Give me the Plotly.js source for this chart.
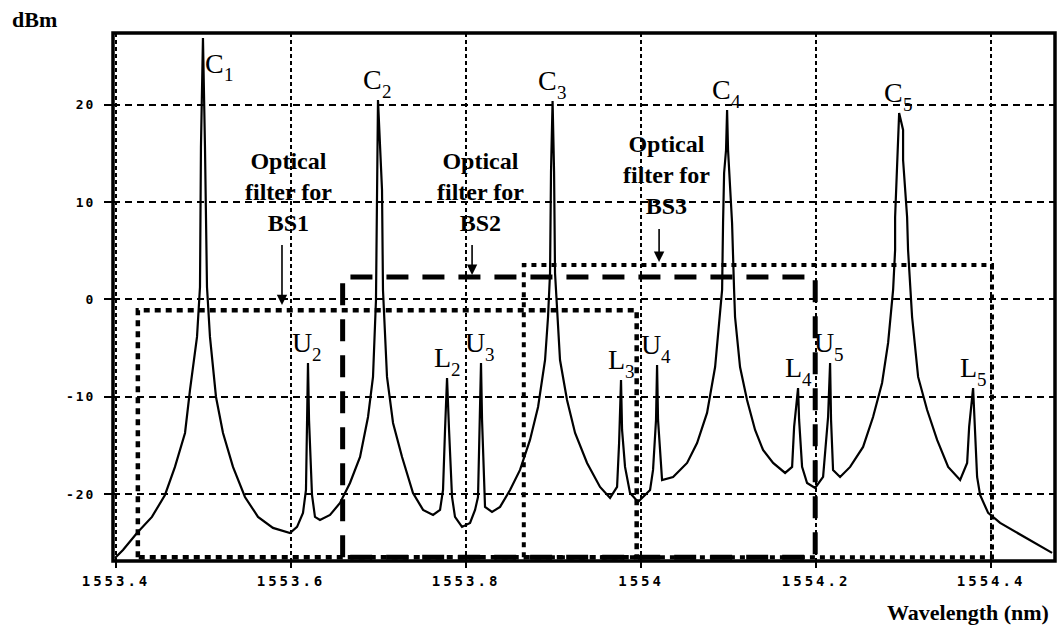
<!DOCTYPE html>
<html>
<head>
<meta charset="utf-8">
<script src="https://cdn.plot.ly/plotly-3.0.1.min.js"></script>
<style>
  html, body { margin: 0; padding: 0; background: #fff; }
  #chart { width: 1057px; height: 642px; }
  .xtick text { letter-spacing: 3px; }
  .ytick text { letter-spacing: 2px; }
</style>
</head>
<body>
<div id="chart"></div>
<script>
// Measured optical spectrum: wavelength (nm) and power (dBm)
const wavelength = [
  1553.3989, 1553.4080, 1553.4240, 1553.4411, 1553.4560, 1553.4674, 1553.4789, 1553.4846, 1553.4926, 1553.4960,
  1553.4971, 1553.4994, 1553.5017, 1553.5040, 1553.5074, 1553.5143, 1553.5223, 1553.5337, 1553.5474, 1553.5623,
  1553.5794, 1553.5989, 1553.6069, 1553.6137, 1553.6171, 1553.6183, 1553.6194, 1553.6206, 1553.6240, 1553.6274,
  1553.6331, 1553.6446, 1553.6560, 1553.6674, 1553.6789, 1553.6880, 1553.6937, 1553.6971, 1553.6983, 1553.6994,
  1553.7040, 1553.7051, 1553.7097, 1553.7166, 1553.7269, 1553.7394, 1553.7509, 1553.7623, 1553.7703, 1553.7737,
  1553.7760, 1553.7783, 1553.7806, 1553.7840, 1553.7874, 1553.7954, 1553.8046, 1553.8103, 1553.8137, 1553.8160,
  1553.8171, 1553.8183, 1553.8217, 1553.8297, 1553.8389, 1553.8503, 1553.8617, 1553.8731, 1553.8823, 1553.8903,
  1553.8937, 1553.8960, 1553.8971, 1553.8989, 1553.9006, 1553.9017, 1553.9074, 1553.9154, 1553.9246, 1553.9383,
  1553.9531, 1553.9646, 1553.9726, 1553.9749, 1553.9771, 1553.9783, 1553.9817, 1553.9874, 1553.9966, 1554.0103,
  1554.0137, 1554.0171, 1554.0183, 1554.0194, 1554.0240, 1554.0366, 1554.0526, 1554.0640, 1554.0754, 1554.0846,
  1554.0903, 1554.0926, 1554.0937, 1554.0949, 1554.0971, 1554.0983, 1554.0994, 1554.1006, 1554.1040, 1554.1063,
  1554.1074, 1554.1131, 1554.1211, 1554.1303, 1554.1394, 1554.1509, 1554.1646, 1554.1726, 1554.1749, 1554.1794,
  1554.1806, 1554.1840, 1554.1897, 1554.1989, 1554.2080, 1554.2137, 1554.2160, 1554.2171, 1554.2194, 1554.2274,
  1554.2389, 1554.2537, 1554.2651, 1554.2754, 1554.2823, 1554.2880, 1554.2903, 1554.2903, 1554.2926, 1554.2937,
  1554.2949, 1554.2994, 1554.2994, 1554.3040, 1554.3051, 1554.3097, 1554.3166, 1554.3269, 1554.3383, 1554.3509,
  1554.3646, 1554.3726, 1554.3749, 1554.3794, 1554.3817, 1554.3840, 1554.3874, 1554.3966, 1554.4103, 1554.4297,
  1554.4526, 1554.4697
];
const power = [
  -26.57, -25.74, -24.00, -22.35, -20.09, -17.21, -13.72, -9.30, -3.85, 1.28,
  15.67, 26.87, 15.67, 1.28, -3.85, -10.02, -13.72, -17.21, -20.30, -22.35,
  -23.48, -24.00, -23.38, -21.94, -19.58, -12.38, -6.53, -12.38, -20.09, -22.35,
  -22.66, -22.15, -20.91, -18.86, -16.19, -12.08, -7.96, -0.05, 11.25, 20.50,
  11.25, 0.98, -7.96, -12.69, -16.19, -19.89, -21.63, -22.15, -21.63, -19.58,
  -13.41, -8.07, -13.41, -20.30, -22.35, -23.38, -22.97, -21.63, -20.30, -12.38,
  -6.53, -12.38, -21.32, -21.84, -21.32, -19.58, -17.52, -14.44, -11.05, -6.22,
  -1.80, 2.72, 13.10, 20.40, 13.10, 2.72, -6.22, -10.33, -13.72, -16.80,
  -19.27, -20.40, -19.27, -14.75, -8.27, -13.41, -17.21, -19.89, -20.81, -19.58,
  -17.52, -12.38, -6.73, -12.38, -18.55, -18.24, -16.80, -14.75, -11.66, -6.94,
  -1.80, 0.98, 7.86, 13.00, 15.36, 19.48, 15.36, 13.00, 7.86, 0.98,
  -1.80, -6.94, -10.33, -13.41, -15.47, -16.80, -17.83, -17.21, -13.10, -9.10,
  -12.38, -17.21, -18.86, -19.37, -18.24, -12.08, -6.53, -12.38, -17.52, -18.24,
  -17.21, -15.16, -12.08, -8.58, -4.47, 0.98, 5.09, 8.48, 14.34, 17.42,
  19.17, 17.42, 14.34, 8.48, 5.09, -1.80, -7.96, -11.36, -14.44, -17.21,
  -18.55, -16.80, -13.10, -9.10, -13.41, -18.24, -20.09, -21.94, -22.97, -24.00,
  -25.23, -26.05
];

// Names of the spectral lines, in order of wavelength
const peakLetters = ['C', 'U', 'C', 'L', 'U', 'C', 'L', 'U', 'C', 'L', 'U', 'C', 'L'];
const peakIndices = ['1', '2', '2', '2', '3', '3', '3', '4', '4', '4', '5', '5', '5'];

// Pass bands of the three optical filters (nm, dBm)
const filterNames = ['BS1', 'BS2', 'BS3'];
const filterStart = [1553.425, 1553.659, 1553.866];
const filterEnd   = [1553.995, 1554.199, 1554.401];
const filterTop   = [-1.1, 2.3, 3.55];
const filterFloor = -26.5;

// Axis ticks
const xTickVals = [1553.4, 1553.6, 1553.8, 1554.0, 1554.2, 1554.4];
const xTickText = ['1553.4', '1553.6', '1553.8', '1554', '1554.2', '1554.4'];
const yTickVals = [-20, -10, 0, 10, 20];
const yTickText = ['-20', '-10', '0', '10', '20'];

const xRange = [1553.3966, 1554.473];
const yRange = [-26.88, 27.39];

// Line styles for each filter outline
const filterLine = [
  { color: '#000', width: 4.5, dash: '6px,5px' },
  { color: '#000', width: 5, dash: '22px,14px' },
  { color: '#000', width: 4, dash: '5px,5px' }
];
// Caption placement for each filter (x in nm, y in dBm) and its arrow
const captionPos = [
  { x: 1553.5966, y: 11.0, ax: 1553.5897, ayTail: 6.32, ayTip: -0.57 },
  { x: 1553.8160, y: 11.0, ax: 1553.8069, ayTail: 6.32, ayTip: 2.52 },
  { x: 1554.0286, y: 12.8, ax: 1554.0206, ayTail: 7.97, ayTip: 3.85 }
];

const serif = 'Liberation Serif, Times New Roman, serif';
const letterFont = { family: serif, size: 28, color: '#000' };
const indexFont = { family: serif, size: 19, color: '#000' };

const traces = [];
filterNames.forEach((name, i) => {
  traces.push({
    type: 'scatter', mode: 'lines', name: name,
    x: [filterStart[i], filterStart[i], filterEnd[i], filterEnd[i], filterStart[i]],
    y: [filterFloor, filterTop[i], filterTop[i], filterFloor, filterFloor],
    line: filterLine[i], hoverinfo: 'skip', showlegend: false
  });
});
traces.push({
  type: 'scatter', mode: 'lines', name: 'Spectrum',
  x: wavelength, y: power,
  line: { color: '#000', width: 2.2 },
  showlegend: false
});

const annotations = [];

// Label every local maximum of the trace with its line name
let k = 0;
for (let i = 1; i < power.length - 1 && k < peakLetters.length; i++) {
  if (power[i] > power[i - 1] && power[i] > power[i + 1]) {
    const nearTop = power[i] > yRange[1] - 4;
    const base = { x: wavelength[i], y: power[i], xref: 'x', yref: 'y', showarrow: false };
    if (nearTop) {
      // no room above the plot edge: put the name beside the line
      annotations.push(Object.assign({}, base, {
        text: peakLetters[k], xanchor: 'left', yanchor: 'top', xshift: 0, yshift: -8, font: letterFont
      }));
      annotations.push(Object.assign({}, base, {
        text: peakIndices[k], xanchor: 'left', yanchor: 'top', xshift: 19, yshift: -24, font: indexFont
      }));
    } else {
      annotations.push(Object.assign({}, base, {
        text: peakLetters[k], xanchor: 'right', yanchor: 'bottom', xshift: 6, yshift: 3, font: letterFont
      }));
      annotations.push(Object.assign({}, base, {
        text: peakIndices[k], xanchor: 'left', yanchor: 'bottom', xshift: 2, yshift: -4, font: indexFont
      }));
    }
    k++;
  }
}

// Filter captions with arrows pointing to each pass band
filterNames.forEach((name, i) => {
  const c = captionPos[i];
  annotations.push({
    x: c.x, y: c.y, xref: 'x', yref: 'y',
    text: 'Optical<br>filter for<br>' + name,
    showarrow: false, xanchor: 'center', yanchor: 'middle',
    font: { family: serif, size: 24, color: '#000', weight: 'bold' }
  });
  annotations.push({
    x: c.ax, y: c.ayTip, xref: 'x', yref: 'y',
    ax: c.ax, ay: c.ayTail, axref: 'x', ayref: 'y',
    text: ' ', showarrow: true, arrowhead: 2, arrowsize: 1.3,
    arrowwidth: 1.6, arrowcolor: '#000', standoff: 0,
    font: { family: serif, size: 10, color: '#000' }
  });
});

// Axis captions
annotations.push({
  x: -0.083, y: 1.025, xref: 'paper', yref: 'paper',
  text: 'dBm', showarrow: false, xanchor: 'center', yanchor: 'middle',
  font: { family: serif, size: 22, color: '#000', weight: 'bold' }
});
annotations.push({
  x: 0.996, y: -0.097, xref: 'paper', yref: 'paper',
  text: 'Wavelength (nm)', showarrow: false, xanchor: 'right', yanchor: 'middle',
  font: { family: serif, size: 22, color: '#000', weight: 'bold' }
});

const layout = {
  width: 1057, height: 642,
  margin: { l: 113, r: 2, t: 33, b: 81, pad: 0 },
  paper_bgcolor: '#fff', plot_bgcolor: '#fff',
  showlegend: false,
  xaxis: {
    range: xRange, tickmode: 'array', tickvals: xTickVals, ticktext: xTickText,
    showgrid: true, gridcolor: '#000', gridwidth: 2, griddash: '4px,3px',
    zeroline: false, showline: false,
    ticks: 'outside', ticklen: 6, tickwidth: 2, tickcolor: '#000',
    tickfont: { family: 'DejaVu Sans Mono, monospace', size: 14, color: '#000', weight: 'bold' },
    ticklabelstandoff: 1
  },
  yaxis: {
    range: yRange, tickmode: 'array', tickvals: yTickVals, ticktext: yTickText,
    showgrid: true, gridcolor: '#000', gridwidth: 2, griddash: '7px,5px',
    zeroline: false, showline: false,
    ticks: 'outside', ticklen: 8, tickwidth: 2, tickcolor: '#000',
    tickfont: { family: 'DejaVu Sans Mono, monospace', size: 13, color: '#000', weight: 'bold' },
    ticklabelstandoff: 6
  },
  shapes: [{
    type: 'rect', xref: 'paper', yref: 'paper', x0: 0, x1: 1, y0: 0, y1: 1,
    line: { color: '#000', width: 3.5 }, layer: 'above'
  }],
  annotations: annotations
};

Plotly.newPlot('chart', traces, layout, { staticPlot: true, displayModeBar: false });
</script>
</body>
</html>
